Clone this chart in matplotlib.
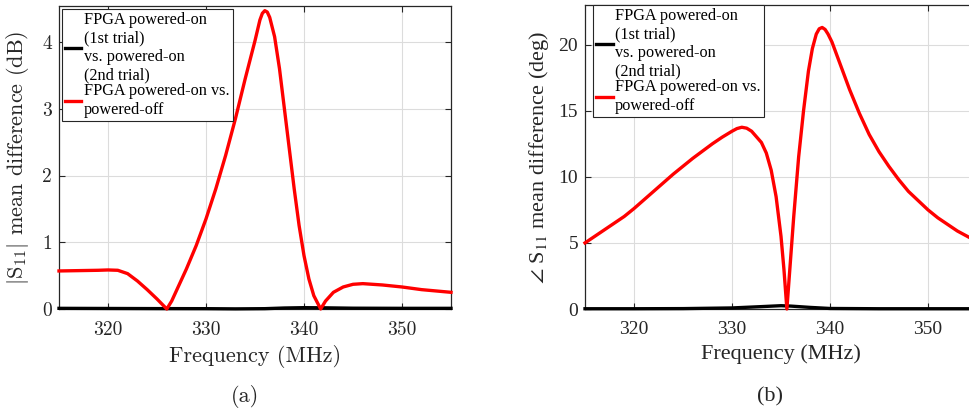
import matplotlib
matplotlib.use("Agg")
import matplotlib.pyplot as plt

# ---- data ----
freq_a_red = [315, 317, 319, 320, 321, 322, 323, 324, 325, 326, 326.5, 327, 328, 329, 330,
              331, 332, 333, 334, 335, 335.5, 335.75, 336, 336.25, 336.5, 337, 337.5, 338,
              338.5, 339, 339.5, 340, 340.5, 341, 341.7, 342.2, 343, 344, 345, 346, 348,
              350, 352, 355]
mag_red = [0.57, 0.575, 0.58, 0.585, 0.58, 0.53, 0.42, 0.29, 0.15, 0.0, 0.12, 0.28, 0.6,
           0.95, 1.35, 1.8, 2.3, 2.85, 3.45, 4.02, 4.33, 4.43, 4.47, 4.45, 4.37, 4.08, 3.6,
           3.0, 2.4, 1.8, 1.25, 0.8, 0.45, 0.2, 0.0, 0.12, 0.25, 0.33, 0.37, 0.38, 0.36,
           0.33, 0.29, 0.25]
freq_a_blk = [315, 320, 325, 330, 333, 336, 338, 340, 342, 345, 350, 355]
mag_blk = [0.01, 0.008, 0.006, 0.005, 0.002, 0.005, 0.015, 0.02, 0.018, 0.012, 0.01, 0.01]

freq_b_red = [315, 317, 319, 320, 322, 324, 326, 328, 329, 330, 330.5, 331, 331.5, 332, 333,
              333.5, 334, 334.5, 335, 335.3, 335.6, 335.9, 336.3, 336.8, 337.3, 337.8,
              338.2, 338.6, 338.9, 339.2, 339.5, 339.8, 340.2, 341, 342, 343, 344, 345,
              346, 347, 348, 349, 350, 351, 352, 353, 354, 355]
ph_red = [5.0, 6.0, 7.0, 7.6, 8.9, 10.2, 11.4, 12.5, 13.0, 13.45, 13.65, 13.75, 13.68, 13.45,
          12.6, 11.8, 10.5, 8.5, 5.5, 3.0, 0.0, 3.0, 7.0, 11.5, 15.0, 18.0, 19.7, 20.8,
          21.2, 21.3, 21.15, 20.8, 20.2, 18.6, 16.6, 14.8, 13.2, 11.9, 10.8, 9.8, 8.9,
          8.2, 7.5, 6.9, 6.4, 5.9, 5.5, 5.1]
freq_b_blk = [315, 320, 325, 330, 333, 335, 336, 338, 340, 345, 355]
ph_blk = [0.02, 0.02, 0.03, 0.08, 0.18, 0.25, 0.22, 0.12, 0.04, 0.02, 0.02]

xticks = [320, 330, 340, 350]
yticks_a = [0, 1, 2, 3, 4]
yticks_b = [0, 5, 10, 15, 20]
label_black = "FPGA powered-on\n(1st trial)\nvs. powered-on\n(2nd trial)"
label_red = "FPGA powered-on vs.\npowered-off"

W, H = 969, 412
fig = plt.figure(figsize=(W / 100, H / 100), dpi=100)

ax_a = fig.add_axes([59 / W, 1 - 309 / H, (451 - 59) / W, (309 - 6) / H])
ax_b = fig.add_axes([585 / W, 1 - 309 / H, (977 - 585) / W, (309 - 5) / H])

cm_font = dict(family="cmr10")
tm_font = dict(family=["Liberation Serif", "DejaVu Serif"])

def style(ax, yticks, ylim, font):
    ax.set_xlim(315, 355)
    ax.set_ylim(*ylim)
    ax.set_xticks(xticks)
    ax.set_yticks(yticks)
    ax.grid(True, color="#dcdcdc", linewidth=0.8)
    ax.set_axisbelow(True)
    ax.tick_params(direction="in", top=True, right=True, length=4, width=0.8,
                   labelsize=14, colors="#262626")
    ax.tick_params(axis="x", pad=9)
    ax.tick_params(axis="y", pad=5)
    for lab in ax.get_xticklabels() + ax.get_yticklabels():
        lab.set_family(font["family"])
    for s in ax.spines.values():
        s.set_color("#262626")
        s.set_linewidth(0.9)

# panel a
ax_a.plot(freq_a_blk, mag_blk, color="black", lw=2.4, label=label_black, clip_on=False, zorder=3)
ax_a.plot(freq_a_red, mag_red, color="red", lw=2.4, label=label_red, clip_on=False, zorder=4)
style(ax_a, yticks_a, (0, 4.54), cm_font)
ax_a.set_xlabel("Frequency (MHz)", fontsize=16, fontfamily="cmr10", color="#262626", labelpad=4)
ax_a.set_ylabel(r"$|\mathrm{S}_{11}|$ mean difference (dB)", fontsize=16, fontfamily="cmr10",
                math_fontfamily="cm", color="#262626", labelpad=8)

# panel b
ax_b.plot(freq_b_blk, ph_blk, color="black", lw=2.4, label=label_black, clip_on=False, zorder=3)
ax_b.plot(freq_b_red, ph_red, color="red", lw=2.4, label=label_red, clip_on=False, zorder=4)
style(ax_b, yticks_b, (0, 23.0), tm_font)
ax_b.set_xlabel("Frequency (MHz)", fontsize=16, fontfamily=tm_font["family"], color="#262626", labelpad=4)
ax_b.set_ylabel(r"$\angle$ S$_{11}$ mean difference (deg)", fontsize=16, fontfamily=tm_font["family"],
                math_fontfamily="stix", color="#262626", labelpad=5)

for ax, anchor in ((ax_a, (62 / W, 1 - 9 / H)), (ax_b, (593 / W, 1 - 5 / H))):
    leg = ax.legend(loc="upper left", bbox_to_anchor=anchor, bbox_transform=fig.transFigure,
                    prop=dict(family=["Liberation Serif", "DejaVu Serif"], size=11.7),
                    frameon=True, fancybox=False, framealpha=1, edgecolor="#262626",
                    borderaxespad=0, borderpad=0.2, handlelength=1.0, handletextpad=0.15,
                    labelspacing=0.0)
    leg.get_frame().set_linewidth(0.8)
    leg.set_zorder(10)

fig.text(245 / W, 1 - 397 / H, "(a)", fontsize=16, fontfamily="cmr10", ha="center", va="center", color="#262626")
fig.text(770 / W, 1 - 397 / H, "(b)", fontsize=16, fontfamily=tm_font["family"], ha="center", va="center", color="#262626")

fig.savefig("out.png", dpi=100)
